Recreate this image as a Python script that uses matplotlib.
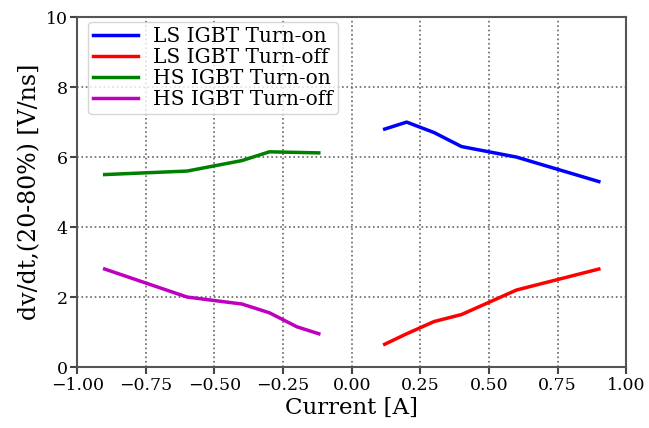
import matplotlib
matplotlib.use("Agg")
import matplotlib.pyplot as plt

plt.rcParams['font.family'] = 'DejaVu Serif'

# LS IGBT (positive current)
ls_on_x = [0.12, 0.2, 0.3, 0.4, 0.5, 0.6, 0.9]
ls_on_y = [6.8, 7.0, 6.7, 6.3, 6.15, 6.0, 5.3]
ls_off_x = [0.12, 0.2, 0.3, 0.4, 0.5, 0.6, 0.9]
ls_off_y = [0.65, 0.95, 1.3, 1.5, 1.85, 2.2, 2.8]

# HS IGBT (negative current)
hs_on_x = [-0.9, -0.6, -0.5, -0.4, -0.3, -0.12]
hs_on_y = [5.5, 5.6, 5.75, 5.9, 6.15, 6.12]
hs_off_x = [-0.9, -0.6, -0.5, -0.4, -0.3, -0.2, -0.12]
hs_off_y = [2.8, 2.0, 1.9, 1.8, 1.55, 1.15, 0.95]

fig = plt.figure(figsize=(6.49, 4.28), dpi=100)
ax = fig.add_axes([0.119, 0.1425, 0.846, 0.8175])

ax.plot(ls_on_x, ls_on_y, color='blue', lw=2.5, label='LS IGBT Turn-on')
ax.plot(ls_off_x, ls_off_y, color='red', lw=2.5, label='LS IGBT Turn-off')
ax.plot(hs_on_x, hs_on_y, color='green', lw=2.5, label='HS IGBT Turn-on')
ax.plot(hs_off_x, hs_off_y, color='m', lw=2.5, label='HS IGBT Turn-off')

ax.set_xlim(-1, 1)
ax.set_ylim(0, 10)
ax.set_xticks([-1, -0.75, -0.5, -0.25, 0, 0.25, 0.5, 0.75, 1])
ax.set_xticklabels(['\u22121.00', '\u22120.75', '\u22120.50', '\u22120.25', '0.00',
                    '0.25', '0.50', '0.75', '1.00'])
ax.set_yticks([0, 2, 4, 6, 8, 10])
ax.grid(True, linestyle=':', color='#666666', lw=1.2)
ax.tick_params(labelsize=12.5, width=1.5, length=5, color='#444444', pad=2)
for s in ax.spines.values():
    s.set_color('#555555')
    s.set_linewidth(1.5)

ax.set_xlabel('Current [A]', fontsize=16.5, labelpad=2)
ax.set_ylabel('dv/dt,(20-80%) [V/ns]', fontsize=17, labelpad=3)
ax.legend(loc='upper left', bbox_to_anchor=(0.01, 1.0), borderaxespad=0.25,
          fontsize=14.5, handlelength=2.25, handletextpad=0.75,
          borderpad=0.25, labelspacing=0.1)

fig.savefig('out.png', dpi=100)
